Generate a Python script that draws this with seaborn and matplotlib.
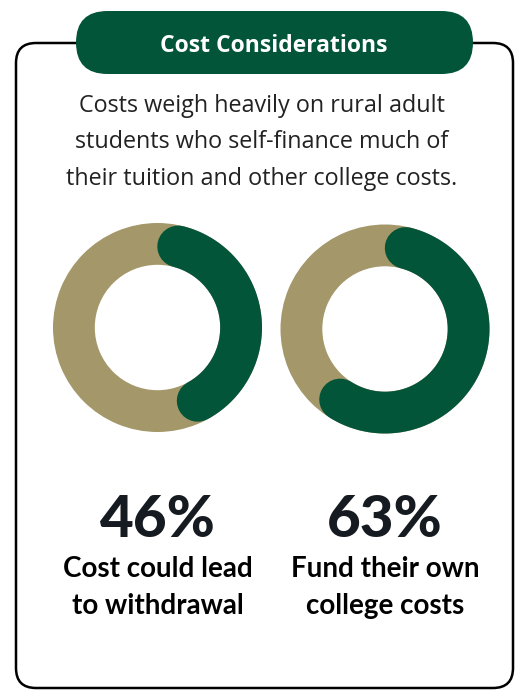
import matplotlib
matplotlib.use("Agg")
import matplotlib.pyplot as plt
import numpy as np
import seaborn as sns
from matplotlib.patches import FancyBboxPatch

# ---- data ----
title = "Cost Considerations"
intro_lines = [
    "Costs weigh heavily on rural adult",
    "students who self-finance much of",
    "their tuition and other college costs.",
]
shares = [46, 63]
share_labels = ["46%", "63%"]
caption_line1 = ["Cost could lead", "Fund their own"]
caption_line2 = ["to withdrawal", "college costs"]

GREEN = "#03553A"
BEIGE = "#A49769"
INK = "#161B22"

sns.set_theme(style="white")
plt.rcParams["font.family"] = ["Lato", "DejaVu Sans"]

W, H = 519, 690
fig = plt.figure(figsize=(W / 100, H / 100), dpi=100)
fig.patch.set_facecolor("white")
bg = fig.add_axes([0, 0, 1, 1])
bg.set_xlim(0, W)
bg.set_ylim(H, 0)
bg.axis("off")

# frame and title pill
frame = FancyBboxPatch((16, 43), 497, 645,
                       boxstyle="round,pad=0,rounding_size=20",
                       fc="white", ec="black", lw=1.8, zorder=1)
bg.add_patch(frame)
pill = FancyBboxPatch((76, 11), 397, 63,
                      boxstyle="round,pad=0,rounding_size=31.5",
                      fc=GREEN, ec="none", zorder=2)
bg.add_patch(pill)
bg.text(274, 52, title, color="white", fontsize=16.5, fontweight="bold",
        family=["Open Sans", "DejaVu Sans"],
        ha="center", va="baseline", zorder=3)

for i, line in enumerate(intro_lines):
    bg.text(262, 112 + 36.5 * i, line, color="#222222", fontsize=16.8,
            family=["Open Sans", "DejaVu Sans"],
            ha="center", va="baseline", zorder=3)

# donuts
centers = [(157.5, 327.5), (385, 329)]
R = 104.5
ring = 0.4
mid = 1 - ring / 2
cap = np.degrees((ring / 2) / mid)
lw_pt = ring * R * 0.72

for (cx, cy), v, lab, c1, c2 in zip(centers, shares, share_labels,
                                     caption_line1, caption_line2):
    ax = fig.add_axes([(cx - R) / W, 1 - (cy + R) / H, 2 * R / W, 2 * R / H])
    ax.pie([1], colors=[BEIGE], radius=1, startangle=90,
           wedgeprops=dict(width=ring, linewidth=0))
    t = np.radians(np.linspace(cap, v / 100 * 360 - cap, 300))
    ax.plot(mid * np.sin(t), mid * np.cos(t), color=GREEN, lw=lw_pt,
            solid_capstyle="round")
    ax.set_xlim(-1, 1)
    ax.set_ylim(-1, 1)
    ax.set_aspect("equal")
    ax.axis("off")

    bg.text(cx, 537, lab, color=INK, fontsize=42, fontweight="black",
            ha="center", va="baseline")
    bg.text(cx, 577, c1, color="black", fontsize=20, fontweight="bold",
            ha="center", va="baseline")
    bg.text(cx, 614, c2, color="black", fontsize=20, fontweight="bold",
            ha="center", va="baseline")

fig.savefig("out.png", dpi=100, facecolor="white")
